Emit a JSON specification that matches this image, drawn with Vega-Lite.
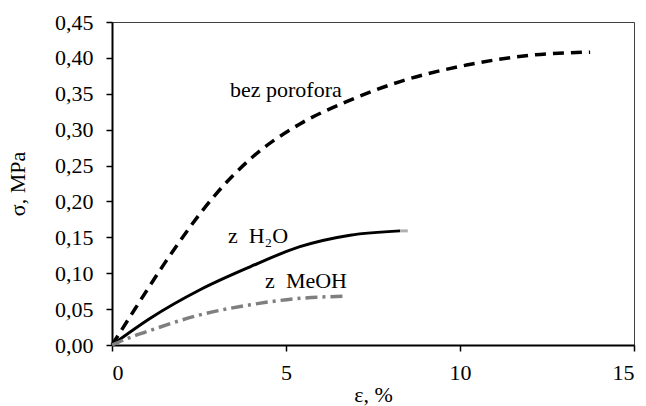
{
  "$schema": "https://vega.github.io/schema/vega-lite/v6.json",
  "autosize": "none",
  "width": 522,
  "height": 323,
  "padding": {"left": 112, "top": 22, "right": 12, "bottom": 61},
  "background": "white",
  "config": {
    "font": "Liberation Serif",
    "view": {"stroke": "#404040", "strokeWidth": 1},
    "axis": {
      "grid": false,
      "domainColor": "black",
      "domainWidth": 2,
      "tickColor": "black",
      "tickWidth": 1.5,
      "tickSize": 6,
      "labelColor": "black",
      "labelFontSize": 22,
      "labelFont": "Liberation Serif",
      "titleColor": "black",
      "titleFontSize": 22,
      "titleFont": "Liberation Serif",
      "titleFontWeight": "normal"
    }
  },
  "datasets": {
    "curves": [
      {"x": 0, "y": 0, "s": "bez"},
      {"x": 0.5, "y": 0.038, "s": "bez"},
      {"x": 1, "y": 0.076, "s": "bez"},
      {"x": 1.5, "y": 0.113, "s": "bez"},
      {"x": 2, "y": 0.148, "s": "bez"},
      {"x": 2.53, "y": 0.183, "s": "bez"},
      {"x": 3, "y": 0.211, "s": "bez"},
      {"x": 3.97, "y": 0.259, "s": "bez"},
      {"x": 5.4, "y": 0.308, "s": "bez"},
      {"x": 6.74, "y": 0.339, "s": "bez"},
      {"x": 8.28, "y": 0.367, "s": "bez"},
      {"x": 10.19, "y": 0.39, "s": "bez"},
      {"x": 12.1, "y": 0.404, "s": "bez"},
      {"x": 13.74, "y": 0.408, "s": "bez"},
      {"x": 0, "y": 0, "s": "h2o"},
      {"x": 1.09, "y": 0.037, "s": "h2o"},
      {"x": 2.53, "y": 0.077, "s": "h2o"},
      {"x": 3.97, "y": 0.109, "s": "h2o"},
      {"x": 5.4, "y": 0.137, "s": "h2o"},
      {"x": 6.84, "y": 0.153, "s": "h2o"},
      {"x": 8.28, "y": 0.159, "s": "h2o"},
      {"x": 8.28, "y": 0.159, "s": "tip"},
      {"x": 8.5, "y": 0.159, "s": "tip"},
      {"x": 0, "y": 0, "s": "meoh"},
      {"x": 0.6, "y": 0.012, "s": "meoh"},
      {"x": 0.9, "y": 0.017, "s": "meoh"},
      {"x": 2.53, "y": 0.042, "s": "meoh"},
      {"x": 3.97, "y": 0.056, "s": "meoh"},
      {"x": 5.4, "y": 0.065, "s": "meoh"},
      {"x": 6.74, "y": 0.068, "s": "meoh"}
    ],
    "labels": [
      {"x": 3.39, "y": 0.345, "label": "bez porofora"},
      {"x": 3.33, "y": 0.142, "label": "z\u00a0\u00a0H₂O"},
      {"x": 4.4, "y": 0.079, "label": "z\u00a0\u00a0MeOH"}
    ]
  },
  "encoding": {
    "x": {
      "field": "x", "type": "quantitative",
      "scale": {"domain": [0, 15], "nice": false},
      "axis": {"values": [0, 5, 10, 15], "title": "ε, %", "labelBaseline": "alphabetic", "labelPadding": 28, "titleBaseline": "alphabetic", "titleY": 56, "titleAnchor": "middle"}
    },
    "y": {
      "field": "y", "type": "quantitative",
      "scale": {"domain": [0, 0.45], "nice": false},
      "axis": {
        "values": [0, 0.05, 0.1, 0.15, 0.2, 0.25, 0.3, 0.35, 0.4, 0.45],
        "labelExpr": "replace(format(datum.value, '.2f'), '.', ',')",
        "labelPadding": 13,
        "labelBaseline": "middle",
        "title": "σ, MPa",
        "titleX": -95,
        "titleY": 161.5,
        "titleBaseline": "middle",
        "titleAngle": -90,
        "titleAlign": "center"
      }
    }
  },
  "layer": [
    {
      "data": {"name": "curves"},
      "transform": [{"filter": "datum.s === 'bez'"}],
      "mark": {"type": "line", "interpolate": "monotone", "color": "black", "strokeWidth": 3.5, "strokeDash": [11, 7]},
      "encoding": {"order": {"field": "x"}}
    },
    {
      "data": {"name": "curves"},
      "transform": [{"filter": "datum.s === 'h2o'"}],
      "mark": {"type": "line", "interpolate": "monotone", "color": "black", "strokeWidth": 3},
      "encoding": {"order": {"field": "x"}}
    },
    {
      "data": {"name": "curves"},
      "transform": [{"filter": "datum.s === 'tip'"}],
      "mark": {"type": "line", "color": "#b0b0b0", "strokeWidth": 3},
      "encoding": {"order": {"field": "x"}}
    },
    {
      "data": {"name": "curves"},
      "transform": [{"filter": "datum.s === 'meoh'"}],
      "mark": {"type": "line", "interpolate": "monotone", "color": "#7f7f7f", "strokeWidth": 3.5, "strokeDash": [12, 5, 3, 5]},
      "encoding": {"order": {"field": "x"}}
    },
    {
      "data": {"name": "labels"},
      "mark": {"type": "text", "align": "left", "baseline": "alphabetic", "fontSize": 22, "font": "Liberation Serif", "color": "black"},
      "encoding": {"text": {"field": "label"}}
    }
  ]
}
